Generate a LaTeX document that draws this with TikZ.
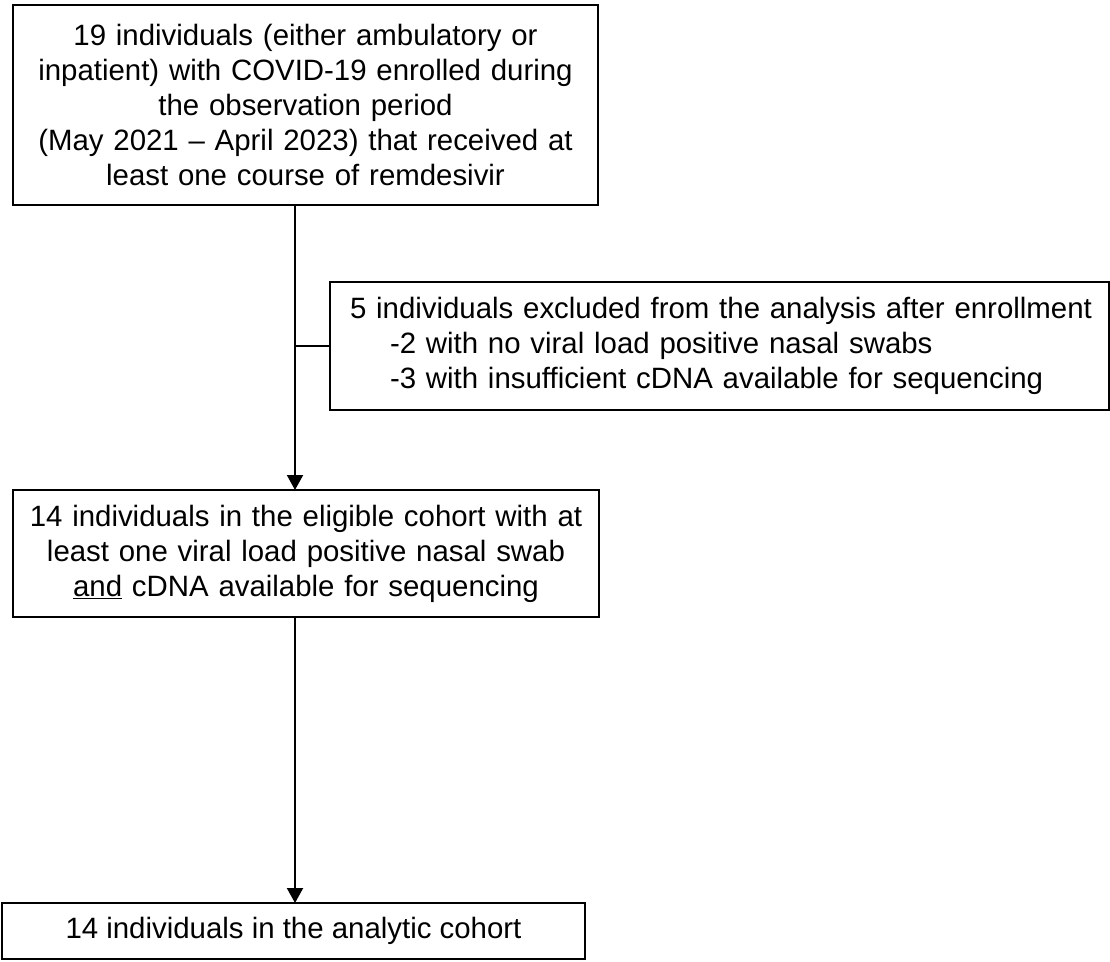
\documentclass[tikz,border=0pt]{standalone}
\usepackage{fontspec}
\setmainfont{Liberation Sans}
\usetikzlibrary{arrows.meta}
\begin{document}
\begin{tikzpicture}[x=1pt,y=-1pt,
  every node/.style={font=\fontsize{29.4}{35}\selectfont},
  thickbox/.style={draw=black, line width=2pt, inner sep=0pt, align=center},
  thinbox/.style={draw=black, line width=1.4pt, inner sep=0pt},
  conn/.style={line width=2pt, draw=black},
  arr/.style={conn, -{Triangle[width=16pt,length=15pt]}}]
\useasboundingbox (0,0) rectangle (1110,961);
\node[thickbox, minimum width=585pt, minimum height=200pt, text width=578pt] (b1) at (305.5,105)
  {19 individuals (either ambulatory or\\ inpatient) with COVID-19 enrolled during\\ the observation period\\ (May 2021 – April 2023) that received at\\ least one course of remdesivir};
\node[thinbox, minimum width=779pt, minimum height=128pt, text width=775pt, inner xsep=2pt, align=left] (b2) at (719.5,346)
  {\hspace*{18pt}5 individuals excluded from the analysis after enrollment\\ \hspace*{58pt}-2 with no viral load positive nasal swabs\\ \hspace*{58pt}-3 with insufficient cDNA available for sequencing};
\node[thickbox, minimum width=586pt, minimum height=127pt, text width=579pt] (b3) at (306,553.5)
  {14 individuals in the eligible cohort with at\\ least one viral load positive nasal swab\\ \underline{and} cDNA available for sequencing};
\node[thinbox, minimum width=583pt, minimum height=56pt, align=center] (b4) at (293.5,931)
  {14 individuals in the analytic cohort};
\coordinate (top1) at (295,205);
\coordinate (bot1) at (295,490);
\coordinate (br) at (295,346);
\coordinate (top3) at (295,617);
\coordinate (bot3) at (295,903);
\draw[arr] (top1) -- (bot1);
\draw[conn] (br) -- (b2.west);
\draw[arr] (top3) -- (bot3);
\end{tikzpicture}
\end{document}
